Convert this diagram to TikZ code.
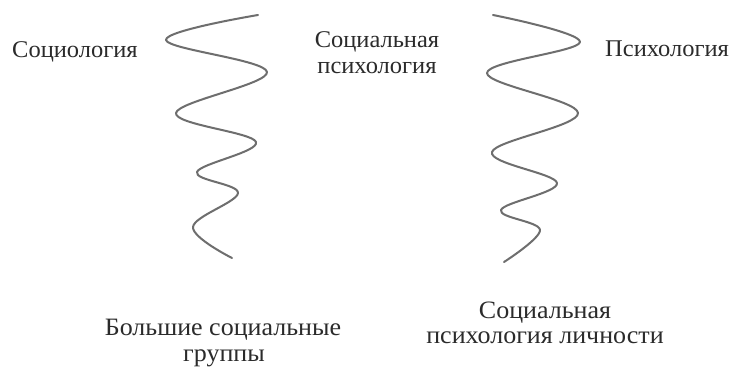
\documentclass[tikz,border=0pt]{standalone}
\usepackage{fontspec}
\setmainfont{Liberation Serif}
\newfontfamily\topfont[FakeStretch=1.02]{Liberation Serif}
\newfontfamily\botfont[FakeStretch=1.04]{Liberation Serif}
\definecolor{wavegray}{HTML}{6E6E6E}
\definecolor{textgray}{HTML}{2B2B2B}
\tikzset{
  wave/.style={draw=wavegray, line width=2pt, line cap=round, line join=round},
  label/.style={inner sep=0pt, text=textgray},
  toplabel/.style={label, font=\topfont\fontsize{24}{27}\selectfont},
  botlabel/.style={label, font=\botfont\fontsize{25}{28}\selectfont}
}
\begin{document}
\begin{tikzpicture}[x=1pt,y=-1pt]
\useasboundingbox (0,0) rectangle (741,367);
\fill[white] (0,0) rectangle (741,367);
% left wave
\draw[wave] plot[smooth, tension=0.6] coordinates {(258,15) (166,40) (267,72) (176,113) (256,142) (197,172) (238,193) (193,227) (232,258)};
% right wave
\draw[wave] plot[smooth, tension=0.6] coordinates {(493,15) (580,42) (487,73) (578,113) (492,152) (557,183) (501,210) (540,230) (504,262)};
% labels
\node[toplabel, anchor=base west] (sociology) at (12,57) {Социология};
\node[toplabel, anchor=base] (socpsy1) at (377,47) {Социальная};
\node[toplabel, anchor=base] (socpsy2) at (377,73) {психология};
\node[toplabel, anchor=base west] (psychology) at (605,56) {Психология};
\node[botlabel, anchor=base] (groups1) at (223,335) {Большие социальные};
\node[botlabel, anchor=base] (groups2) at (224,361) {группы};
\node[botlabel, anchor=base] (pers1) at (545,318) {Социальная};
\node[botlabel, anchor=base] (pers2) at (545,343) {психология личности};
\end{tikzpicture}
\end{document}
